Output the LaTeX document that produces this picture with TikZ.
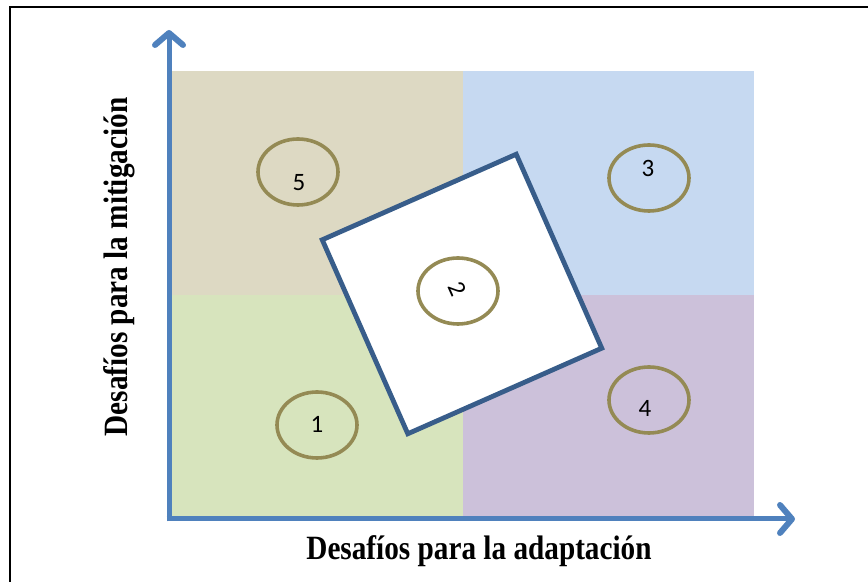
\documentclass[tikz,border=0pt]{standalone}
\usepackage{fontspec}
\usepackage{graphicx}
\setmainfont{Liberation Serif}
\newfontfamily\digitfont{Carlito}
\usetikzlibrary{arrows.meta,shapes.geometric}
\definecolor{axisblue}{HTML}{4F81BD}
\definecolor{boxblue}{HTML}{385D8A}
\definecolor{ringolive}{HTML}{948A54}
\definecolor{quadtan}{HTML}{DDD9C3}
\definecolor{quadsky}{HTML}{C6D9F1}
\definecolor{quadgreen}{HTML}{D7E4BD}
\definecolor{quadlilac}{HTML}{CCC1DA}
\newcommand{\narrowlabel}[1]{\scalebox{0.86}[1]{#1}}
\tikzset{
  axisline/.style={axisblue, line width=2.5pt, -{Straight Barb[length=6pt,width=14pt,line width=3pt,round]}},
  ring/.style={ellipse, draw=ringolive, line width=1.8pt, minimum width=40pt, minimum height=33pt, inner sep=0pt},
  numtext/.style={font=\digitfont\fontsize{12.5}{14}\selectfont},
  axistext/.style={font=\bfseries\fontsize{17}{20}\selectfont}
}
\begin{document}
\begin{tikzpicture}[x=0.5pt, y=-0.5pt]
\useasboundingbox (0,0) rectangle (868,582);
% marco
\draw[line width=1pt] (10,600) -- (10,7) -- (880,7);
% cuadrantes
\fill[quadtan] (172,71) rectangle (463,295);
\fill[quadsky] (463,71) rectangle (754,295);
\fill[quadgreen] (172,295) rectangle (463,518);
\fill[quadlilac] (463,295) rectangle (754,518);
% ejes
\coordinate (origin) at (169,519);
\coordinate (ytip) at (169,30);
\coordinate (xtip) at (795,519);
\draw[axisline] ([yshift=-1.25pt]origin) -- (ytip);
\draw[axisline] ([xshift=-1.25pt]origin) -- (xtip);
\node[axistext] (xlabel) at (479,551) {\narrowlabel{Desafíos para la adaptación}};
\node[axistext, rotate=90] (ylabel) at (119,267) {\narrowlabel{Desafíos para la mitigación}};
% zona central
\node[draw=boxblue, fill=white, line width=2.4pt, minimum size=106pt, rotate=23.8] (zone) at (462,294) {};
% circulos
\node[ring] (c5) at (298,172) {};
\node[numtext] (n5) at (299,183) {5};
\node[ring] (c3) at (649,178) {};
\node[numtext] (n3) at (648,168) {3};
\node[ring] (c4) at (649,400) {};
\node[numtext] (n4) at (645,408) {4};
\node[ring] (c1) at (317,425) {};
\node[numtext] (n1) at (317,424) {1};
\node[ring] (c2) at (458,291) {};
\node[numtext, rotate=-66] (n2) at (457,289) {2};
\end{tikzpicture}
\end{document}
